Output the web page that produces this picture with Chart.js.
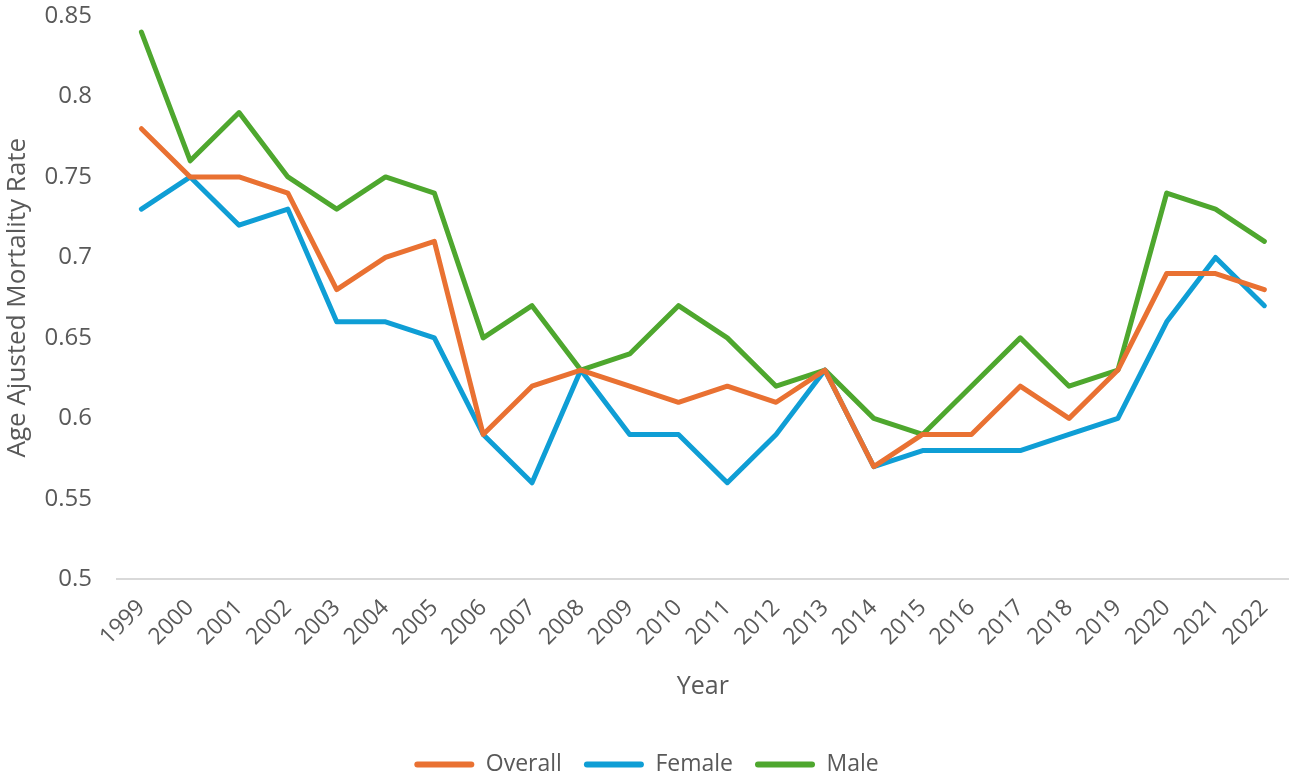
<!DOCTYPE html>
<html><head><meta charset="utf-8">
<script src="https://cdn.jsdelivr.net/npm/chart.js@4"></script>
<style>html,body{margin:0;padding:0;background:#fff;}#wrap{width:1299px;height:775px;}</style>
</head><body><div id="wrap"><canvas id="c"></canvas></div>
<script>
const years = ['1999','2000','2001','2002','2003','2004','2005','2006','2007','2008','2009','2010','2011','2012','2013','2014','2015','2016','2017','2018','2019','2020','2021','2022'];
const overall = [0.78,0.75,0.75,0.74,0.68,0.70,0.71,0.59,0.62,0.63,0.62,0.61,0.62,0.61,0.63,0.57,0.59,0.59,0.62,0.60,0.63,0.69,0.69,0.68];
const female  = [0.73,0.75,0.72,0.73,0.66,0.66,0.65,0.59,0.56,0.63,0.59,0.59,0.56,0.59,0.63,0.57,0.58,0.58,0.58,0.59,0.60,0.66,0.70,0.67];
const male    = [0.84,0.76,0.79,0.75,0.73,0.75,0.74,0.65,0.67,0.63,0.64,0.67,0.65,0.62,0.63,0.60,0.59,0.62,0.65,0.62,0.63,0.74,0.73,0.71];
const yTicks = [0.5,0.55,0.6,0.65,0.7,0.75,0.8,0.85];

const FONT = "'Open Sans', sans-serif";
const TXT = '#595959';
function ds(label, data, color){
  return {label, data, borderColor: color, backgroundColor: color, borderWidth: 5, pointRadius: 0, tension: 0, borderCapStyle:'round', borderJoinStyle:'round'};
}
new Chart(document.getElementById('c'), {
  type: 'line',
  data: { labels: years, datasets: [ds('Overall', overall, '#E97132'), ds('Female', female, '#0F9ED5'), ds('Male', male, '#4EA72E')] },
  options: {
    responsive: true, maintainAspectRatio: false, animation: false,
    layout: { padding: { left: 0, right: 6, top: 16, bottom: -11 } },
    plugins: {
      tooltip: {enabled:false},
      legend: {
        position: 'bottom',
        labels: {
          font: {family: FONT, size: 23}, color: TXT,
          boxWidth: 60, boxHeight: 6, padding: 22,
          generateLabels(chart){
            return chart.data.datasets.map((d,i)=>({text:d.label, fillStyle:d.borderColor, strokeStyle:d.borderColor, lineWidth:0, borderRadius:3, datasetIndex:i, fontColor: TXT}));
          }
        }
      }
    },
    scales: {
      x: {
        offset: true,
        grid: {display: false, drawTicks: false},
        border: {display: true, color: '#d9d9d9', width: 2},
        ticks: {font: {family: FONT, size: 23}, color: TXT, maxRotation: 45, minRotation: 45, padding: 15},
        title: {display: true, text: 'Year', font: {family: FONT, size: 25}, color: TXT, padding: {top: 6, bottom: 29}}
      },
      y: {
        min: 0.5, max: 0.85,
        afterBuildTicks(axis){ axis.ticks = yTicks.map(v=>({value:v})); },
        afterFit(axis){ axis.width = 117; axis.paddingTop = 0; axis.paddingBottom = 0; },
        grid: {display: false, drawTicks: false},
        border: {display: false},
        ticks: {font: {family: FONT, size: 24}, color: TXT, padding: 25, callback: v => String(Number(v.toFixed(2)))},
        title: {display: true, text: 'Age Ajusted Mortality Rate', font: {family: FONT, size: 26}, color: TXT, padding: {top: 2, bottom: 10}}
      }
    }
  }
});
</script></body></html>
